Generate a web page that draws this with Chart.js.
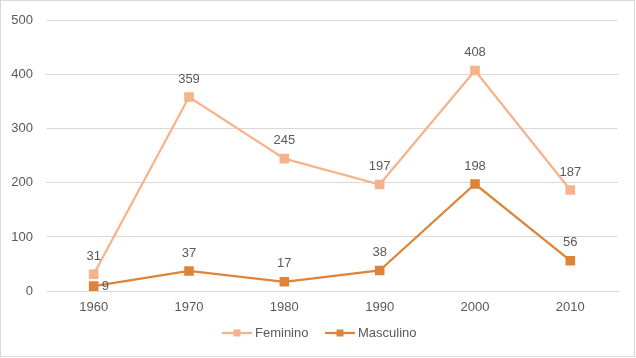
<!DOCTYPE html>
<html>
<head>
<meta charset="utf-8">
<script src="https://cdn.jsdelivr.net/npm/chart.js@4.4.1/dist/chart.umd.min.js"></script>
<style>
  html, body { margin: 0; padding: 0; background: #fff; }
  #wrap { width: 636px; height: 358px; }
</style>
</head>
<body>
<div id="wrap"><canvas id="chart" width="636" height="358"></canvas></div>
<script>
// данные
const years = ['1960', '1970', '1980', '1990', '2000', '2010'];
const feminino = [31, 359, 245, 197, 408, 187];
const masculino = [9, 37, 17, 38, 198, 56];
const seriesNames = ['Feminino', 'Masculino'];
const colors = ['#F6B28A', '#DE8438'];

const textColor = '#595959';
const fontFamily = 'Arial, "Liberation Sans", sans-serif';

Chart.defaults.font.family = fontFamily;
Chart.defaults.color = textColor;

// подписи значений над точками
const valueLabels = {
  id: 'valueLabels',
  afterDatasetsDraw(chart) {
    const ctx = chart.ctx;
    ctx.save();
    ctx.font = '13px ' + fontFamily;
    ctx.fillStyle = textColor;
    ctx.textBaseline = 'middle';
    chart.data.datasets.forEach((ds, i) => {
      chart.getDatasetMeta(i).data.forEach((pt, j) => {
        const v = ds.data[j];
        if (i === 1 && j === 0) {
          ctx.textAlign = 'left';
          ctx.fillText(String(v), pt.x + 8, pt.y);
        } else {
          ctx.textAlign = 'center';
          ctx.fillText(String(v), pt.x, pt.y - 18);
        }
      });
    });
    ctx.restore();
  },
};

// легенда снизу + рамка
const bottomLegend = {
  id: 'bottomLegend',
  afterDraw(chart) {
    const ctx = chart.ctx;
    ctx.save();
    const y = 333;
    const starts = [222, 325];
    ctx.font = '13px ' + fontFamily;
    ctx.textBaseline = 'middle';
    ctx.textAlign = 'left';
    seriesNames.forEach((name, i) => {
      const x = starts[i];
      ctx.strokeStyle = colors[i];
      ctx.lineWidth = 2.25;
      ctx.beginPath();
      ctx.moveTo(x, y);
      ctx.lineTo(x + 30, y);
      ctx.stroke();
      ctx.fillStyle = colors[i];
      ctx.fillRect(x + 11.5, y - 3.5, 7, 7);
      ctx.fillStyle = textColor;
      ctx.fillText(name, x + 33, y);
    });
    ctx.strokeStyle = '#d9d9d9';
    ctx.lineWidth = 1;
    ctx.strokeRect(0.5, 0.5, 634, 356);
    ctx.restore();
  },
};

const chart = new Chart(document.getElementById('chart'), {
  type: 'line',
  data: {
    labels: years,
    datasets: [
      {
        label: seriesNames[0],
        data: feminino,
        borderColor: colors[0],
        backgroundColor: colors[0],
        borderWidth: 2.25,
        pointStyle: 'rect',
        pointRadius: 5.2,
        pointHoverRadius: 5.2,
        tension: 0,
      },
      {
        label: seriesNames[1],
        data: masculino,
        borderColor: colors[1],
        backgroundColor: colors[1],
        borderWidth: 2.25,
        pointStyle: 'rect',
        pointRadius: 5.2,
        pointHoverRadius: 5.2,
        tension: 0,
      },
    ],
  },
  options: {
    responsive: false,
    animation: false,
    layout: { padding: { left: 0, right: 18, top: 18, bottom: 40 } },
    plugins: {
      legend: { display: false },
      tooltip: { enabled: false },
    },
    scales: {
      x: {
        offset: true,
        grid: { display: false, drawTicks: false },
        border: { display: true, color: '#d9d9d9' },
        ticks: { padding: 9, font: { size: 13 }, color: textColor },
        afterFit: (s) => { s.height = 27; },
      },
      y: {
        min: 0,
        max: 500,
        ticks: { stepSize: 100, padding: 13, font: { size: 13 }, color: textColor },
        grid: { color: '#d9d9d9', drawTicks: false },
        border: { display: false },
        afterFit: (s) => { s.width = 46; },
      },
    },
  },
  plugins: [valueLabels, bottomLegend],
});
</script>
</body>
</html>
